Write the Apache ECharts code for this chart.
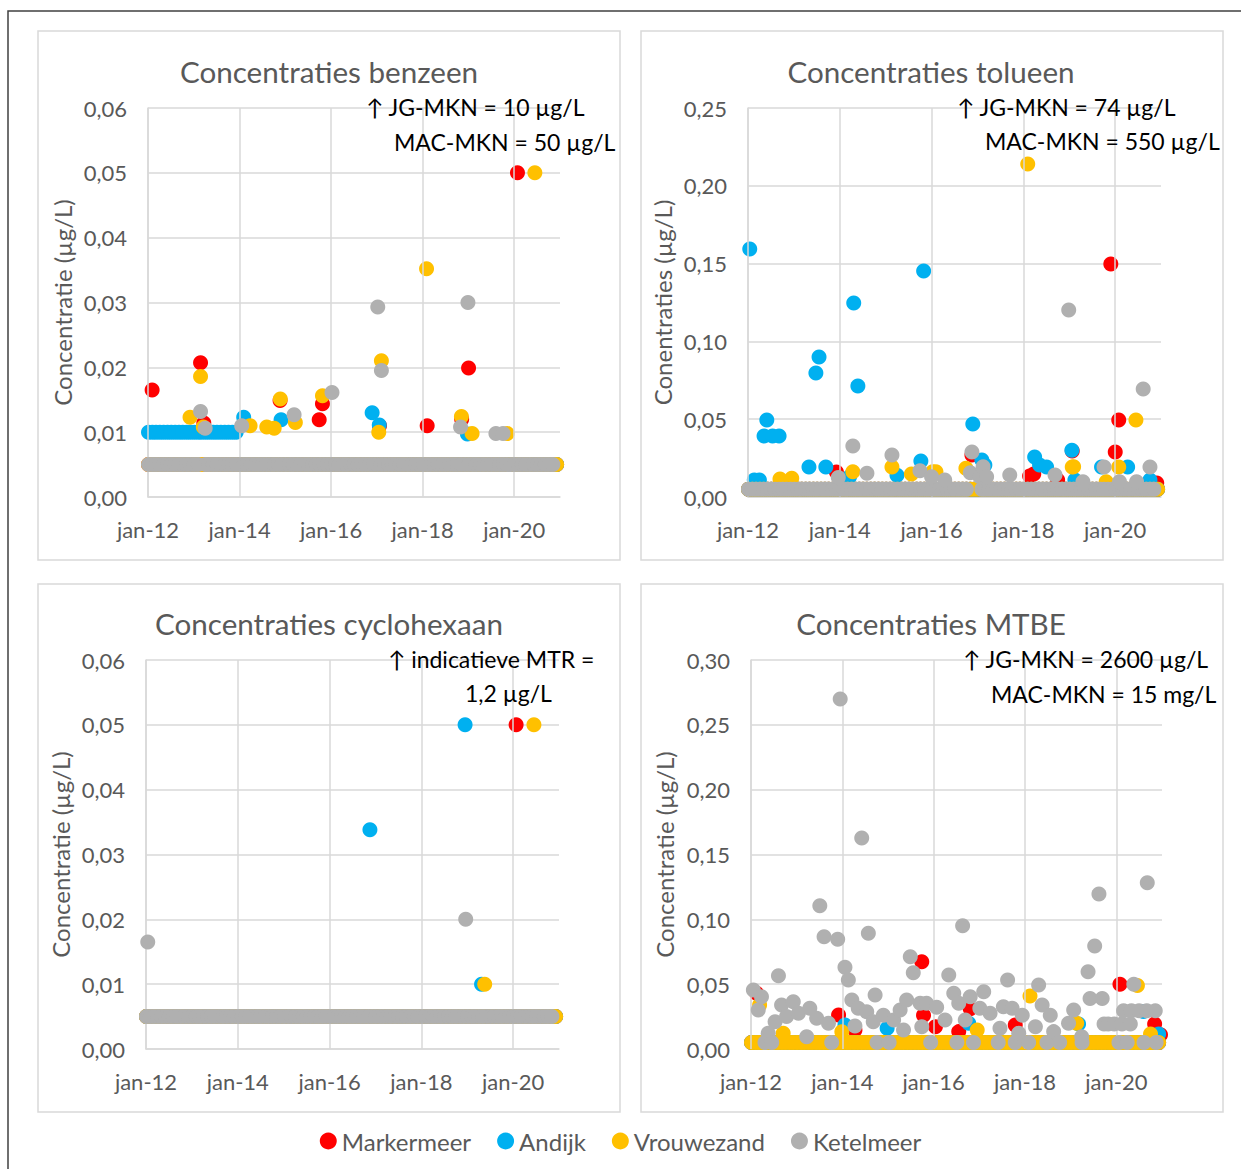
<!DOCTYPE html>
<html><head><meta charset="utf-8">
<script src="https://cdn.jsdelivr.net/npm/echarts@6/dist/echarts.min.js"></script>
<style>html,body{margin:0;padding:0;background:#fff}#c{width:1241px;height:1169px}</style>
</head><body><div id="c"></div><script>
// ---------------- DATA ----------------
const stations = ['Markermeer', 'Andijk', 'Vrouwezand', 'Ketelmeer'];
const chartTitles = ['Concentraties benzeen', 'Concentraties tolueen', 'Concentraties cyclohexaan', 'Concentraties MTBE'];
const yAxisNames = ['Concentratie (µg/L)', 'Conentraties (µg/L)', 'Concentratie (µg/L)', 'Concentratie (µg/L)'];
const normNotes = [
  ['↑ JG-MKN = 10 µg/L', 'MAC-MKN = 50 µg/L'],
  ['↑ JG-MKN = 74 µg/L', 'MAC-MKN = 550 µg/L'],
  ['↑ indicatieve MTR =', '1,2 µg/L'],
  ['↑ JG-MKN = 2600 µg/L', 'MAC-MKN = 15 mg/L']
];
const yMaxima = [0.06, 0.25, 0.06, 0.30];
const yIntervals = [0.01, 0.05, 0.01, 0.05];
const xTickYears = [2012, 2014, 2016, 2018, 2020];
const xTickLabels = ['jan-12', 'jan-14', 'jan-16', 'jan-18', 'jan-20'];

// monthly sampling dates (non-detects are plotted at half the reporting limit)
const sampleDates = [
 '2012-01-05','2012-02-05','2012-03-05','2012-04-05','2012-05-05','2012-06-05','2012-07-05','2012-08-05','2012-09-05','2012-10-05','2012-11-05','2012-12-05',
 '2013-01-05','2013-02-05','2013-03-05','2013-04-05','2013-05-05','2013-06-05','2013-07-05','2013-08-05','2013-09-05','2013-10-05','2013-11-05','2013-12-05',
 '2014-01-05','2014-02-05','2014-03-05','2014-04-05','2014-05-05','2014-06-05','2014-07-05','2014-08-05','2014-09-05','2014-10-05','2014-11-05','2014-12-05',
 '2015-01-05','2015-02-05','2015-03-05','2015-04-05','2015-05-05','2015-06-05','2015-07-05','2015-08-05','2015-09-05','2015-10-05','2015-11-05','2015-12-05',
 '2016-01-05','2016-02-05','2016-03-05','2016-04-05','2016-05-05','2016-06-05','2016-07-05','2016-08-05','2016-09-05','2016-10-05','2016-11-05','2016-12-05',
 '2017-01-05','2017-02-05','2017-03-05','2017-04-05','2017-05-05','2017-06-05','2017-07-05','2017-08-05','2017-09-05','2017-10-05','2017-11-05','2017-12-05',
 '2018-01-05','2018-02-05','2018-03-05','2018-04-05','2018-05-05','2018-06-05','2018-07-05','2018-08-05','2018-09-05','2018-10-05','2018-11-05','2018-12-05',
 '2019-01-05','2019-02-05','2019-03-05','2019-04-05','2019-05-05','2019-06-05','2019-07-05','2019-08-05','2019-09-05','2019-10-05','2019-11-05','2019-12-05',
 '2020-01-05','2020-02-05','2020-03-05','2020-04-05','2020-05-05','2020-06-05','2020-07-05','2020-08-05','2020-09-05','2020-10-05','2020-11-05','2020-12-05'
];

// non-detect periods per station: [fromMonth, toMonth, plotted value]
const ndBenzeen = [
  [['2012-01', '2020-12', 0.005]],
  [['2012-01', '2013-12', 0.01], ['2014-01', '2020-12', 0.005]],
  [['2012-01', '2020-12', 0.005]],
  [['2012-01', '2013-02', 0.005], ['2013-04', '2020-11', 0.005]]
];
const ndTolueen = [
  [['2012-01', '2020-12', 0.005]],
  [['2012-01', '2020-12', 0.005]],
  [['2012-01', '2020-12', 0.005]],
  [['2012-01', '2016-10', 0.005], ['2017-02', '2020-11', 0.005]]
];
const ndCyclohexaan = [
  [['2012-01', '2020-12', 0.005]],
  [['2012-01', '2020-12', 0.005]],
  [['2012-01', '2020-12', 0.005]],
  [['2012-01', '2020-11', 0.005]]
];
const ndMTBE = [
  [['2012-01', '2020-12', 0.005]],
  [['2012-01', '2020-12', 0.005]],
  [['2012-01', '2020-12', 0.005]],
  []
];

// measured values [date, µg/L]
const benzeenMarkermeer = [['2012-02-03',0.0165],['2013-02-24',0.0207],['2013-03-22',0.0114],['2014-11-20',0.0149],['2015-09-28',0.0119],['2015-10-24',0.0144],['2017-01-22',0.0110],['2018-02-06',0.0110],['2018-11-08',0.0120],['2019-01-02',0.0199],['2020-01-27',0.0500]];
const benzeenAndijk = [['2014-02-03',0.0123],['2014-11-28',0.0119],['2016-11-24',0.0130],['2017-01-20',0.0111],['2018-12-24',0.0097]];
const benzeenVrouwezand = [['2012-12-02',0.0123],['2013-02-24',0.0186],['2013-03-18',0.0108],['2014-03-26',0.0110],['2014-08-06',0.0108],['2014-10-04',0.0106],['2014-11-22',0.0151],['2015-03-22',0.0115],['2015-10-24',0.0156],['2017-01-16',0.0100],['2017-02-06',0.0210],['2018-02-01',0.0352],['2018-11-06',0.0124],['2019-01-30',0.0098],['2019-11-06',0.0098],['2020-06-14',0.0500]];
const benzeenKetelmeer = [['2013-02-24',0.0132],['2013-04-02',0.0106],['2014-01-18',0.0110],['2015-03-12',0.0127],['2016-01-08',0.0161],['2017-01-08',0.0293],['2017-02-06',0.0195],['2018-10-30',0.0108],['2018-12-28',0.0300],['2019-08-08',0.0098],['2019-10-04',0.0098]];

const tolueenMarkermeer = [['2013-12-05',0.016],['2016-11-18',0.027],['2018-02-20',0.0135],['2018-03-25',0.0148],['2018-10-01',0.011],['2019-01-25',0.0296],['2019-11-28',0.1497],['2020-01-02',0.0289],['2020-01-30',0.0495],['2020-11-28',0.0090]];
const tolueenAndijk = [['2012-01-15',0.1594],['2012-02-20',0.011],['2012-04-01',0.011],['2012-05-08',0.0392],['2012-05-30',0.0495],['2012-07-15',0.0392],['2012-09-05',0.0392],['2013-05-01',0.0193],['2013-06-25',0.0797],['2013-07-20',0.0900],['2013-09-12',0.0193],['2014-03-20',0.013],['2014-04-22',0.1247],['2014-05-25',0.0713],['2015-04-01',0.014],['2015-10-08',0.0231],['2015-10-30',0.1452],['2016-11-25',0.0469],['2017-02-05',0.0238],['2017-03-01',0.0206],['2018-04-01',0.0257],['2018-05-10',0.0206],['2018-07-05',0.0193],['2019-01-22',0.0300],['2019-02-15',0.011],['2019-09-15',0.0193],['2020-04-10',0.0193],['2020-10-05',0.011]];
const tolueenVrouwezand = [['2012-09-12',0.0116],['2012-12-15',0.012],['2014-04-15',0.0163],['2015-02-20',0.0193],['2015-07-25',0.0148],['2016-01-10',0.0163],['2016-02-05',0.0163],['2016-10-01',0.0184],['2018-02-05',0.2140],['2019-01-25',0.0193],['2019-02-05',0.0195],['2019-10-22',0.0098],['2020-01-30',0.0193],['2020-06-15',0.0495]];
const tolueenKetelmeer = [['2013-12-20',0.0126],['2014-04-15',0.0328],['2014-08-05',0.0152],['2015-02-20',0.0270],['2015-10-01',0.0169],['2016-01-01',0.0130],['2016-04-15',0.0110],['2016-11-05',0.0156],['2016-11-18',0.0289],['2017-01-20',0.0130],['2017-02-15',0.0195],['2017-03-15',0.0130],['2017-09-15',0.0141],['2018-09-10',0.0141],['2018-12-28',0.1202],['2019-04-20',0.0098],['2019-10-05',0.0193],['2020-02-05',0.0098],['2020-06-20',0.0098],['2020-08-12',0.0694],['2020-10-05',0.0193]];

const cyclohexaanMarkermeer = [['2020-01-25',0.050]];
const cyclohexaanAndijk = [['2016-11-18',0.0338],['2018-12-15',0.050],['2019-04-25',0.010]];
const cyclohexaanVrouwezand = [['2019-05-20',0.010],['2020-06-15',0.050]];
const cyclohexaanKetelmeer = [['2012-01-15',0.0165],['2018-12-20',0.020]];

const mtbeMarkermeer = [['2012-02-15',0.043],['2013-12-02',0.0262],['2014-04-12',0.0147],['2015-09-28',0.0673],['2015-10-12',0.026],['2016-01-15',0.0172],['2016-07-20',0.0134],['2016-10-20',0.031],['2017-10-15',0.0185],['2020-01-30',0.0499],['2020-11-03',0.0193],['2020-12-20',0.011]];
const mtbeAndijk = [['2014-01-22',0.0185],['2014-12-25',0.016],['2016-10-08',0.0198],['2019-03-05',0.0193],['2020-08-05',0.029],['2020-12-05',0.0116]];
const mtbeVrouwezand = [['2012-03-10',0.034],['2012-09-15',0.0121],['2013-12-28',0.0133],['2016-12-15',0.0147],['2018-02-10',0.0409],['2019-02-18',0.0198],['2020-06-18',0.049],['2020-10-01',0.0116]];
const mtbeKetelmeer = [['2012-01-20',0.0455],['2012-02-28',0.030],['2012-03-25',0.0403],['2012-04-22',0.005],['2012-05-18',0.0121],['2012-06-15',0.005],['2012-07-12',0.021],['2012-08-08',0.0565],['2012-09-02',0.034],['2012-10-12',0.025],['2012-12-05',0.0365],['2013-01-15',0.0275],['2013-03-22',0.0095],['2013-04-16',0.0314],['2013-06-10',0.0237],['2013-07-05',0.1105],['2013-08-08',0.0866],['2013-09-12',0.0198],['2013-10-08',0.005],['2013-11-25',0.0846],['2013-12-15',0.2699],['2014-01-22',0.063],['2014-02-18',0.0532],['2014-03-18',0.0378],['2014-04-12',0.0177],['2014-05-08',0.0314],['2014-06-05',0.1627],['2014-07-15',0.0288],['2014-07-28',0.0892],['2014-09-05',0.021],['2014-09-20',0.0416],['2014-10-05',0.005],['2014-11-25',0.026],['2015-01-10',0.005],['2015-02-15',0.0224],['2015-04-08',0.030],['2015-05-05',0.0147],['2015-05-30',0.0378],['2015-06-28',0.0712],['2015-07-22',0.0588],['2015-09-15',0.0352],['2015-09-28',0.0172],['2015-11-05',0.0352],['2015-12-08',0.005],['2016-01-25',0.0322],['2016-04-01',0.0224],['2016-05-01',0.057],['2016-06-10',0.043],['2016-07-05',0.005],['2016-07-20',0.0352],['2016-08-20',0.095],['2016-09-10',0.0224],['2016-10-20',0.0403],['2016-11-15',0.005],['2017-01-05',0.0314],['2017-02-05',0.0442],['2017-03-28',0.0275],['2017-06-01',0.005],['2017-06-15',0.016],['2017-07-12',0.0326],['2017-08-15',0.0532],['2017-09-20',0.0314],['2017-10-15',0.005],['2017-11-12',0.0121],['2017-12-10',0.026],['2018-01-30',0.005],['2018-03-25',0.0172],['2018-04-20',0.0494],['2018-05-18',0.034],['2018-06-25',0.005],['2018-07-22',0.026],['2018-08-18',0.0134],['2018-10-05',0.005],['2018-12-15',0.0198],['2019-01-25',0.030],['2019-03-30',0.0095],['2019-04-02',0.005],['2019-05-20',0.0596],['2019-06-05',0.039],['2019-07-12',0.0794],['2019-08-15',0.1195],['2019-09-10',0.039],['2019-09-25',0.0193],['2019-10-28',0.0193],['2019-12-15',0.0193],['2020-01-22',0.005],['2020-02-15',0.0193],['2020-02-28',0.0295],['2020-03-28',0.005],['2020-04-22',0.0193],['2020-05-01',0.0295],['2020-05-20',0.0499],['2020-07-01',0.0295],['2020-08-10',0.005],['2020-09-01',0.0295],['2020-09-05',0.1283],['2020-11-08',0.0295],['2020-11-15',0.005]];

const ndPeriods = [ndBenzeen, ndTolueen, ndCyclohexaan, ndMTBE];
const measured = [
  [benzeenMarkermeer, benzeenAndijk, benzeenVrouwezand, benzeenKetelmeer],
  [tolueenMarkermeer, tolueenAndijk, tolueenVrouwezand, tolueenKetelmeer],
  [cyclohexaanMarkermeer, cyclohexaanAndijk, cyclohexaanVrouwezand, cyclohexaanKetelmeer],
  [mtbeMarkermeer, mtbeAndijk, mtbeVrouwezand, mtbeKetelmeer]
];

// ---------------- STYLE / LAYOUT ----------------
const stationColors = ['#FF0000', '#00B0F0', '#FFC000', '#B0B0B0'];
const FONT = 'Lato, "Noto Sans", sans-serif';
const TXT = '#595959';
const GRIDC = '#D9D9D9';
const grids = [
  {left: 148, top: 108, width: 412, height: 389},
  {left: 748, top: 108, width: 413, height: 389},
  {left: 146, top: 660, width: 413, height: 389},
  {left: 751, top: 660, width: 411, height: 389}
];
const panelBoxes = [[38, 31, 582, 529], [641, 31, 582, 529], [38, 584, 582, 528], [641, 584, 582, 528]];
const titlePos = [[329, 71], [931, 71], [329, 623], [931, 623]];
const notePos = [[[366, 107], [394, 142]], [[957, 107], [985, 141]], [[388, 659], [465, 693]], [[963, 659], [991, 694]]];
const yNameGap = [86, 86, 86, 87];

function decYear(s) {
  const p = s.split('-').map(Number);
  const a = Date.UTC(p[0], 0, 1), b = Date.UTC(p[0] + 1, 0, 1);
  return p[0] + (Date.UTC(p[0], p[1] - 1, p[2]) - a) / (b - a);
}
function ndPoints(periods) {
  const out = [];
  periods.forEach(function (per) {
    sampleDates.forEach(function (d) {
      const m = d.slice(0, 7);
      if (m >= per[0] && m <= per[1]) out.push([decYear(d), per[2]]);
    });
  });
  return out;
}

const chart = echarts.init(document.getElementById('c'), null, {renderer: 'svg'});
const xAxes = [], yAxes = [], series = [], graphics = [];

graphics.push({type: 'rect', silent: true, z: -10, shape: {x: 8, y: 11, width: 1300, height: 1300},
  style: {fill: 'none', stroke: '#404040', lineWidth: 1.5}});

for (let i = 0; i < 4; i++) {
  const b = panelBoxes[i];
  graphics.push({type: 'rect', silent: true, z: -10, shape: {x: b[0], y: b[1], width: b[2], height: b[3]},
    style: {fill: 'none', stroke: GRIDC, lineWidth: 1.5}});
  graphics.push({type: 'text', silent: true, x: titlePos[i][0], y: titlePos[i][1],
    style: {text: chartTitles[i], fontSize: 29.6, fontFamily: FONT, fill: TXT, align: 'center', verticalAlign: 'middle'}});
  for (let k = 0; k < 2; k++) {
    graphics.push({type: 'text', silent: true, z: 10, x: notePos[i][k][0], y: notePos[i][k][1],
      style: {text: normNotes[i][k], fontSize: 23, fontFamily: FONT, fill: '#000', align: 'left', verticalAlign: 'middle'}});
  }
  xAxes.push({
    gridIndex: i, type: 'value', min: 2012, max: 2021, interval: 2,
    axisLine: {show: true, lineStyle: {color: GRIDC, width: 1.5}},
    axisTick: {show: false}, splitLine: {show: false},
    axisLabel: {margin: 21, fontSize: 22, fontFamily: FONT, color: TXT,
      formatter: function (v) { const j = xTickYears.indexOf(Math.round(v)); return (j >= 0 && Math.abs(v - Math.round(v)) < 0.01) ? xTickLabels[j] : ''; }}
  });
  yAxes.push({
    gridIndex: i, type: 'value', min: 0, max: yMaxima[i], interval: yIntervals[i],
    name: yAxisNames[i], nameLocation: 'middle', nameRotate: 90, nameGap: yNameGap[i],
    nameTextStyle: {fontSize: 24, fontFamily: FONT, color: TXT, verticalAlign: 'middle'},
    axisLine: {show: true, lineStyle: {color: GRIDC, width: 1.5}},
    axisTick: {show: false},
    splitLine: {show: true, lineStyle: {color: GRIDC, width: 1.5}},
    axisLabel: {margin: 21, fontSize: 22, fontFamily: FONT, color: TXT,
      formatter: function (v) { return v.toFixed(2).replace('.', ','); }}
  });
  // vertical gridlines at the labelled years
  series.push({
    type: 'line', xAxisIndex: i, yAxisIndex: i, data: [], z: 1, silent: true,
    markLine: {silent: true, symbol: 'none', animation: false, label: {show: false},
      lineStyle: {color: GRIDC, width: 1.5, type: 'solid'},
      data: xTickYears.map(function (y) { return {xAxis: y}; })}
  });
  for (let s = 0; s < 4; s++) {
    const pts = ndPoints(ndPeriods[i][s]).concat(measured[i][s].map(function (d) { return [decYear(d[0]), d[1]]; }));
    series.push({
      name: stations[s], type: 'scatter', xAxisIndex: i, yAxisIndex: i, z: 2 + s,
      symbol: 'circle', symbolSize: 15, data: pts,
      itemStyle: {color: stationColors[s], opacity: 1}
    });
  }
}

chart.setOption({
  animation: false,
  backgroundColor: '#fff',
  color: stationColors,
  grid: grids,
  xAxis: xAxes,
  yAxis: yAxes,
  series: series,
  graphic: graphics,
  legend: {
    data: stations, left: 'center', top: 1124, icon: 'circle', itemWidth: 17, itemHeight: 17, itemGap: 26,
    selectedMode: false,
    textStyle: {fontSize: 24, fontFamily: FONT, color: TXT}
  }
});
</script></body></html>
